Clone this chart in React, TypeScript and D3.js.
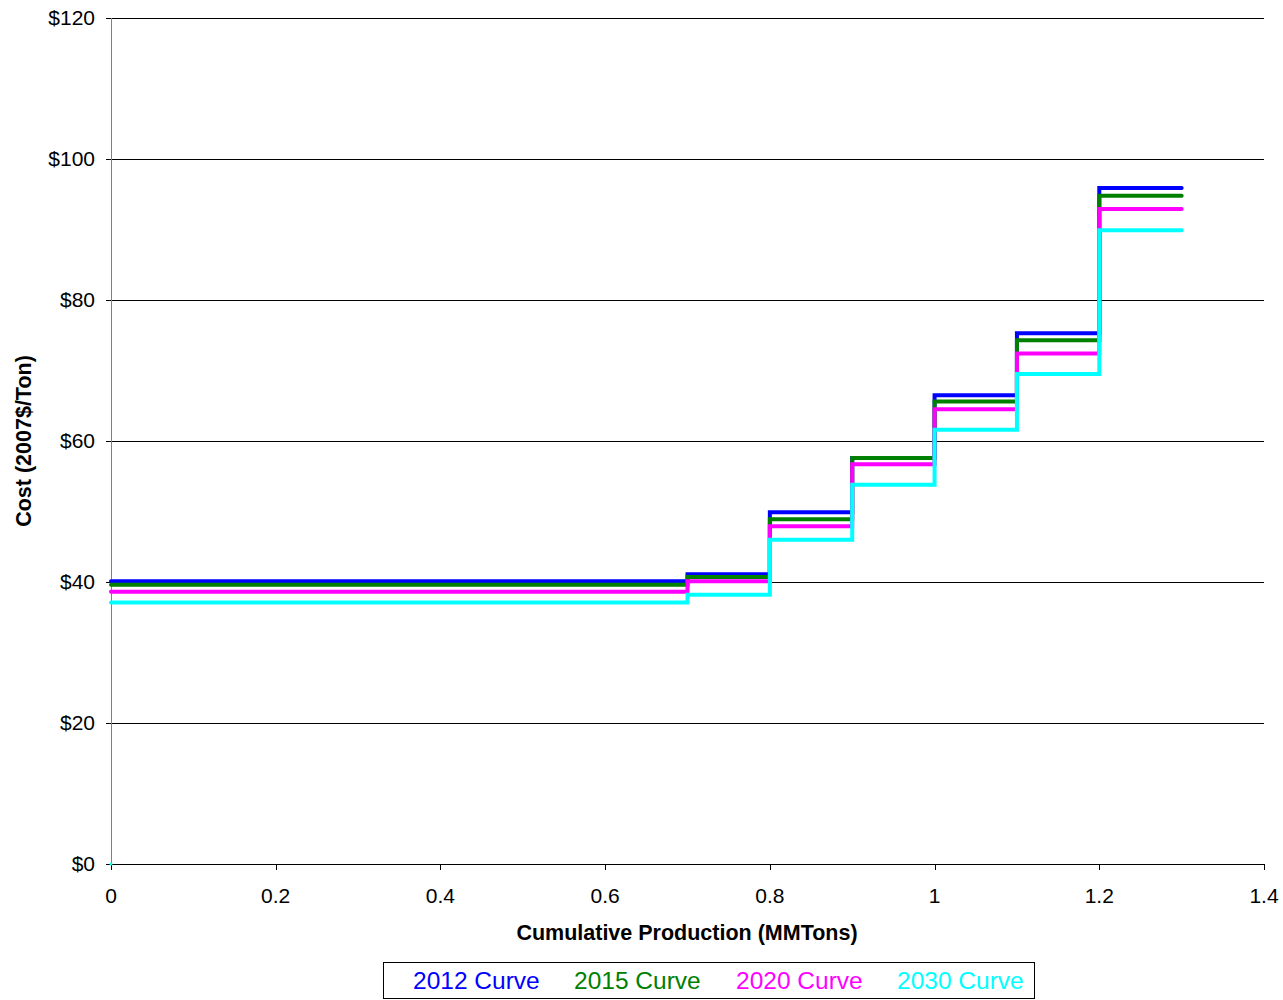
import React from "react";
import * as d3 from "d3";

const breaks = [0, 0.7, 0.8, 0.9, 1.0, 1.1, 1.2, 1.3];
const curve2012 = [40.1, 41.1, 49.9, 57.6, 66.5, 75.3, 95.9];
const curve2015 = [39.6, 40.7, 48.9, 57.6, 65.6, 74.3, 94.8];
const curve2020 = [38.6, 40.1, 47.9, 56.7, 64.5, 72.4, 92.9];
const curve2030 = [37.1, 38.2, 46.0, 53.8, 61.6, 69.5, 89.9];
const seriesNames = ["2012 Curve", "2015 Curve", "2020 Curve", "2030 Curve"];
const seriesColors = ["#0000FF", "#008000", "#FF00FF", "#00FFFF"];
const yTicks = [0, 20, 40, 60, 80, 100, 120];
const xTicks = [0, 0.2, 0.4, 0.6, 0.8, 1, 1.2, 1.4];

const allSeries = [curve2012, curve2015, curve2020, curve2030];

export default function App() {
  const left = 111, right = 1264, top = 18, bottom = 864;
  const x = d3.scaleLinear().domain([0, 1.4]).range([left, right]);
  const y = d3.scaleLinear().domain([0, 120]).range([bottom, top]);
  const font = "'Liberation Sans', Arial, sans-serif";

  const toPoints = (vals: number[]) => {
    const pts: [number, number][] = [];
    vals.forEach((v, i) => {
      pts.push([breaks[i], v]);
      pts.push([breaks[i + 1], v]);
    });
    return pts;
  };
  const line = d3
    .line<[number, number]>()
    .x((d) => x(d[0]))
    .y((d) => y(d[1]));

  const legendX = [413, 574, 736, 897];

  return (
    <svg
      width={1283}
      height={1000}
      style={{ position: "absolute", left: 0, top: 0, background: "#fff" }}
      fontFamily={font}
    >
      {yTicks.map((t) => (
        <g key={"y" + t}>
          <line
            x1={left}
            x2={right}
            y1={Math.round(y(t)) + 0.5}
            y2={Math.round(y(t)) + 0.5}
            stroke="#000"
            strokeWidth={1}
          />
          <line
            x1={left - 5}
            x2={left}
            y1={Math.round(y(t)) + 0.5}
            y2={Math.round(y(t)) + 0.5}
            stroke="#000"
          />
          <text x={95} y={y(t) + 7} textAnchor="end" fontSize={21} fill="#000">
            ${t}
          </text>
        </g>
      ))}
      <line x1={left + 0.5} x2={left + 0.5} y1={top} y2={bottom} stroke="#808080" />
      {xTicks.map((t) => (
        <g key={"x" + t}>
          <line
            x1={Math.round(x(t)) + 0.5}
            x2={Math.round(x(t)) + 0.5}
            y1={bottom}
            y2={bottom + 6}
            stroke="#000"
          />
          <text x={x(t)} y={903} textAnchor="middle" fontSize={21} fill="#000">
            {t}
          </text>
        </g>
      ))}
      {allSeries.map((vals, i) => (
        <path
          key={"s" + i}
          d={line(toPoints(vals)) || ""}
          fill="none"
          stroke={seriesColors[i]}
          strokeWidth={4}
          strokeLinecap="round"
          strokeLinejoin="miter"
        />
      ))}
      <circle cx={x(0)} cy={y(0)} r={1.5} fill="#00FFFF" />
      <text
        x={687}
        y={940}
        textAnchor="middle"
        fontSize={21.5}
        fontWeight="bold"
        fill="#000"
      >
        Cumulative Production (MMTons)
      </text>
      <text
        transform={`translate(31, 441) rotate(-90)`}
        textAnchor="middle"
        fontSize={21.5}
        fontWeight="bold"
        fill="#000"
      >
        Cost (2007$/Ton)
      </text>
      <rect x={383.5} y={962.5} width={651} height={36} fill="#fff" stroke="#000" />
      {legendX.map((lx, i) => (
        <text key={"l" + i} x={lx} y={989} fontSize={24.5} fill={seriesColors[i]}>
          {seriesNames[i]}
        </text>
      ))}
    </svg>
  );
}
